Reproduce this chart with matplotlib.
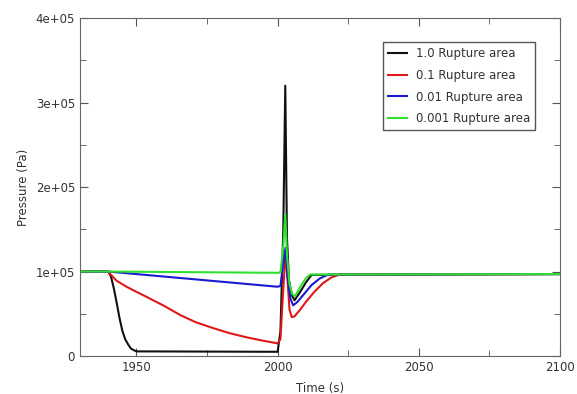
import matplotlib
matplotlib.use("Agg")
import matplotlib.pyplot as plt
from matplotlib.ticker import FuncFormatter, MultipleLocator

# time (s) and pressure (1e5 Pa)
t_black = [1930, 1940, 1941, 1942, 1943, 1944, 1945, 1946, 1947, 1948, 1949, 1950, 2000,
           2001, 2002, 2002.7, 2003.3, 2004, 2005, 2006, 2008, 2010, 2012, 2100]
p_black = [1.0, 1.0, 0.94, 0.8, 0.63, 0.45, 0.3, 0.2, 0.14, 0.09, 0.07, 0.055, 0.05,
           0.3, 1.5, 3.2, 1.4, 0.9, 0.72, 0.66, 0.76, 0.87, 0.96, 0.97]

t_red = [1930, 1940, 1941, 1943, 1946.5, 1950, 1953.6, 1960, 1965.5, 1971, 1977.2, 1983, 1989.2,
         1995, 2000, 2001, 2002, 2002.8, 2003.5, 2004.2, 2005, 2006, 2008, 2010, 2013, 2016,
         2019, 2022, 2100]
p_red = [1.0, 1.0, 0.96, 0.89, 0.82, 0.76, 0.70, 0.59, 0.485, 0.40, 0.33, 0.27, 0.22,
         0.18, 0.15, 0.2, 0.8, 1.22, 0.9, 0.55, 0.46, 0.47, 0.55, 0.64, 0.76, 0.86,
         0.93, 0.965, 0.97]

t_blue = [1930, 1940, 1955, 1970, 1985, 2000, 2001, 2002, 2002.8, 2003.5, 2004.5, 2005.5,
          2007, 2009, 2012, 2015, 2018, 2100]
p_blue = [1.0, 1.0, 0.955, 0.91, 0.865, 0.82, 0.83, 1.1, 1.28, 0.95, 0.68, 0.60,
          0.64, 0.72, 0.84, 0.92, 0.965, 0.97]

t_green = [1930, 1940, 2000, 2001, 2002, 2002.7, 2003.3, 2004.2, 2005.2, 2006.2, 2008, 2010,
           2011.5, 2100]
p_green = [1.0, 1.0, 0.985, 0.99, 1.3, 1.68, 1.2, 0.85, 0.73, 0.71, 0.82, 0.92,
           0.965, 0.97]

labels = ["1.0 Rupture area", "0.1 Rupture area", "0.01 Rupture area", "0.001 Rupture area"]
colors = ["#111111", "#e01818", "#1a1ad0", "#30e030"]

fig = plt.figure(figsize=(5.77, 3.94), dpi=100)
ax = fig.add_axes([0.1386, 0.0964, 0.832, 0.8576])

series = [(t_black, p_black), (t_red, p_red), (t_blue, p_blue), (t_green, p_green)]
for (t, p), lab, c in zip(series, labels, colors):
    ax.plot(t, [v * 1e5 for v in p], color=c, lw=1.5, label=lab)

ax.set_xlim(1930, 2100)
ax.set_ylim(0, 4e5)
ax.xaxis.set_major_locator(MultipleLocator(50))
ax.xaxis.set_minor_locator(MultipleLocator(25))
ax.yaxis.set_major_locator(MultipleLocator(1e5))
ax.yaxis.set_minor_locator(MultipleLocator(0.5e5))
ax.yaxis.set_major_formatter(FuncFormatter(lambda v, pos: "0" if v == 0 else f"{v:.0e}"))

ax.tick_params(which="both", direction="in", top=True, right=True, colors="#555555",
               labelcolor="#333333", labelsize=8.5)
ax.tick_params(which="major", length=6)
ax.tick_params(which="minor", length=4)
for s in ax.spines.values():
    s.set_color("#666666")

ax.set_xlabel("Time (s)", fontsize=8.5, color="#333333", labelpad=6)
ax.set_ylabel("Pressure (Pa)", fontsize=8.5, color="#333333")

leg = ax.legend(loc="upper right", bbox_to_anchor=(0.948, 0.929), borderaxespad=0,
                fontsize=8.5, fancybox=False, framealpha=1, labelspacing=0.75,
                handlelength=1.6)
leg.get_frame().set_edgecolor("#555555")
for txt in leg.get_texts():
    txt.set_color("#333333")

fig.savefig("out.png", dpi=100)
